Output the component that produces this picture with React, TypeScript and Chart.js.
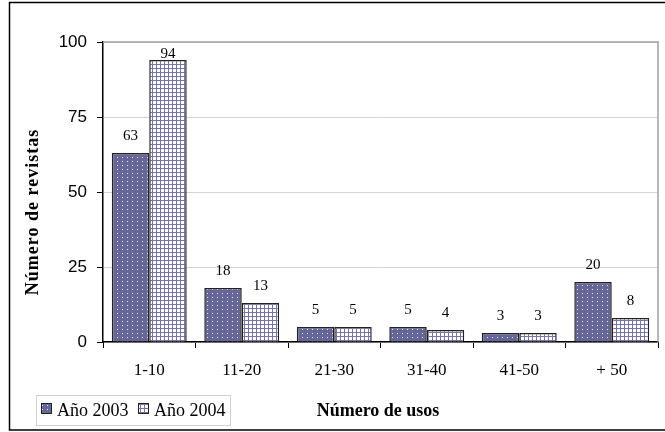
import React, { useEffect, useRef } from "react";
import { Chart, registerables } from "chart.js";

Chart.register(...registerables);

const categories = ["1-10", "11-20", "21-30", "31-40", "41-50", "+ 50"];
const series2003 = [63, 18, 5, 5, 3, 20];
const series2004 = [94, 13, 5, 4, 3, 8];
const seriesNames = ["Año 2003", "Año 2004"];
const yTicks = [0, 25, 50, 75, 100];
const xTitle = "Número de usos";
const yTitle = "Número de revistas";

const SERIF = "'Liberation Serif', 'Times New Roman', serif";
const SANS = "'Liberation Sans', Arial, sans-serif";

function makeDotPattern(ctx: CanvasRenderingContext2D) {
  const c = document.createElement("canvas");
  c.width = 5;
  c.height = 4;
  const g = c.getContext("2d")!;
  g.fillStyle = "#666699";
  g.fillRect(0, 0, 5, 4);
  g.fillStyle = "#e8e8f4";
  g.fillRect(2, 1, 1, 1);
  return ctx.createPattern(c, "repeat")!;
}

function makeGridPattern(ctx: CanvasRenderingContext2D) {
  const c = document.createElement("canvas");
  c.width = 4;
  c.height = 4;
  const g = c.getContext("2d")!;
  g.fillStyle = "#ffffff";
  g.fillRect(0, 0, 4, 4);
  g.fillStyle = "#7575a8";
  g.fillRect(0, 0, 4, 1);
  g.fillRect(0, 0, 1, 4);
  return ctx.createPattern(c, "repeat")!;
}

export default function App() {
  const ref = useRef<HTMLCanvasElement | null>(null);

  useEffect(() => {
    const canvas = ref.current!;
    const ctx = canvas.getContext("2d")!;
    const p2003 = makeDotPattern(ctx);
    const p2004 = makeGridPattern(ctx);
    const fills = [p2003, p2004];

    const decor = {
      id: "decor",
      beforeDraw(chart: any) {
        const c = chart.ctx;
        c.save();
        c.fillStyle = "#fff";
        c.fillRect(0, 0, chart.width, chart.height);
        c.restore();
      },
      afterDraw(chart: any) {
        const c = chart.ctx as CanvasRenderingContext2D;
        const a = chart.chartArea;
        c.save();
        // plot area border top/right (gray)
        c.strokeStyle = "#a0a0a0";
        c.lineWidth = 1.5;
        c.beginPath();
        c.moveTo(a.left, a.top);
        c.lineTo(a.right, a.top);
        c.lineTo(a.right, a.bottom);
        c.stroke();
        // outer frame
        c.strokeStyle = "#000";
        c.lineWidth = 1.5;
        c.beginPath();
        c.moveTo(670, 2.5);
        c.lineTo(9.5, 2.5);
        c.lineTo(9.5, 430);
        c.lineTo(670, 430);
        c.stroke();
        // y title
        c.fillStyle = "#000";
        c.font = "bold 18px " + SERIF;
        c.textAlign = "center";
        c.textBaseline = "middle";
        c.save();
        c.translate(33, 212);
        c.rotate(-Math.PI / 2);
        (c as any).letterSpacing = "1px";
        c.fillText(yTitle, 0, 0);
        c.restore();
        // x title
        c.fillText(xTitle, 378, 411);
        // legend
        c.strokeStyle = "#d0d0d0";
        c.lineWidth = 1;
        c.strokeRect(36.5, 395.5, 194, 30);
        const sw = [41, 138];
        const tx = [57, 154];
        c.font = "18px " + SERIF;
        c.textAlign = "left";
        for (let i = 0; i < 2; i++) {
          c.fillStyle = fills[i];
          c.fillRect(sw[i], 403, 11, 11);
          c.strokeStyle = "#222";
          c.lineWidth = 1;
          c.strokeRect(sw[i] + 0.5, 403.5, 10, 10);
          c.fillStyle = "#000";
          c.fillText(seriesNames[i], tx[i], 411);
        }
        // data labels
        c.font = "15px " + SERIF;
        c.textAlign = "center";
        c.fillStyle = "#000";
        chart.data.datasets.forEach((ds: any, di: number) => {
          const meta = chart.getDatasetMeta(di);
          meta.data.forEach((bar: any, i: number) => {
            const y = Math.max(bar.y - 17, a.top + 12);
            c.fillText(String(ds.data[i]), bar.x, y);
          });
        });
        c.restore();
      },
    };

    const chart = new Chart(canvas, {
      type: "bar",
      data: {
        labels: categories,
        datasets: [
          {
            label: seriesNames[0],
            data: series2003,
            backgroundColor: p2003 as any,
            borderColor: "#222",
            borderWidth: 1.5,
            categoryPercentage: 0.81,
            barPercentage: 1,
          },
          {
            label: seriesNames[1],
            data: series2004,
            backgroundColor: p2004 as any,
            borderColor: "#222",
            borderWidth: 1.5,
            categoryPercentage: 0.81,
            barPercentage: 1,
          },
        ],
      },
      options: {
        animation: false,
        responsive: false,
        maintainAspectRatio: false,
        layout: { padding: { left: 0, right: 7, top: 42, bottom: 0 } },
        plugins: {
          legend: { display: false },
          title: { display: false },
          tooltip: { enabled: false },
        },
        scales: {
          x: {
            afterFit: (s: any) => {
              s.height = 90;
            },
            grid: {
              offset: true,
              drawOnChartArea: false,
              tickColor: "#000",
              tickLength: 6,
              lineWidth: 1,
            },
            border: { color: "#000", width: 1.5 },
            ticks: {
              color: "#000",
              font: { family: SERIF, size: 17 },
              padding: 12,
            },
          },
          y: {
            min: 0,
            max: 100,
            afterFit: (s: any) => {
              s.width = 103;
            },
            afterBuildTicks: (s: any) => {
              s.ticks = yTicks.map((v) => ({ value: v }));
            },
            grid: {
              color: "#d4d4d4",
              tickColor: "#000",
              tickLength: 6,
              lineWidth: 1,
            },
            border: { color: "#000", width: 1.5 },
            ticks: {
              color: "#000",
              font: { family: SANS, size: 17 },
              padding: 10,
            },
          },
        },
      },
      plugins: [decor],
    });
    return () => chart.destroy();
  }, []);

  return (
    <div style={{ position: "absolute", left: 0, top: 0, width: 665, height: 432 }}>
      <canvas ref={ref} width={665} height={432} style={{ width: 665, height: 432, display: "block" }} />
    </div>
  );
}
